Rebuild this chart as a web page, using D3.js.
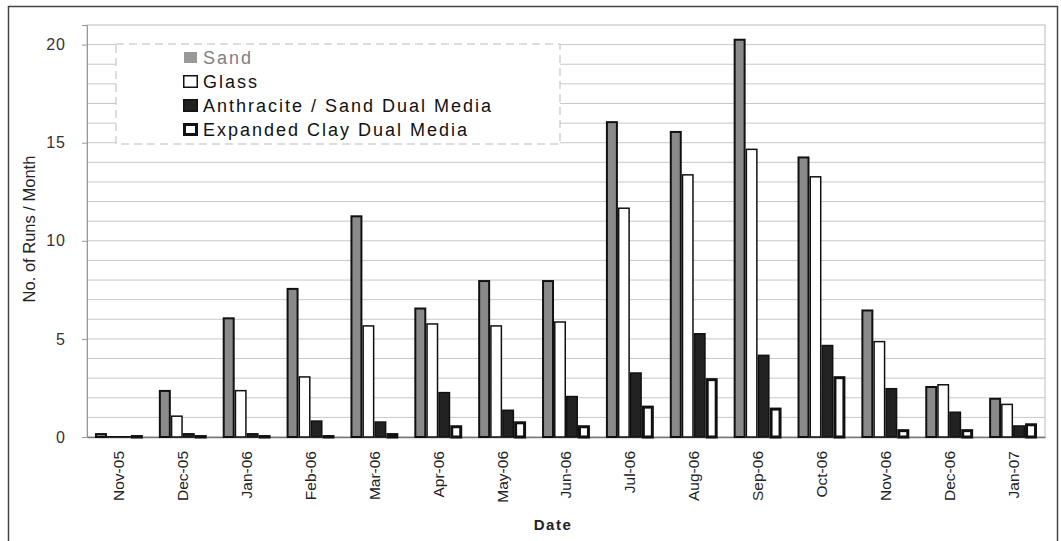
<!DOCTYPE html>
<html><head><meta charset="utf-8">
<script src="https://cdn.jsdelivr.net/npm/d3@7"></script>
<style>body{margin:0;background:#fff}svg{display:block}</style>
</head><body>
<script>
const categories = ["Nov-05","Dec-05","Jan-06","Feb-06","Mar-06","Apr-06","May-06","Jun-06","Jul-06","Aug-06","Sep-06","Oct-06","Nov-06","Dec-06","Jan-07"];
const seriesNames = ["Sand","Glass","Anthracite / Sand Dual Media","Expanded Clay Dual Media"];
const sand       = [0.2,2.4,6.1,7.6,11.3,6.6,8.0,8.0,16.1,15.6,20.3,14.3,6.5,2.6,2.0];
const glass      = [0.05,1.1,2.4,3.1,5.7,5.8,5.7,5.9,11.7,13.4,14.7,13.3,4.9,2.7,1.7];
const anthracite = [0.05,0.2,0.2,0.85,0.8,2.3,1.4,2.1,3.3,5.3,4.2,4.7,2.5,1.3,0.6];
const clay       = [0.1,0.1,0.1,0.1,0.2,0.6,0.8,0.6,1.6,3.0,1.5,3.1,0.4,0.4,0.7];
const yTicks = [0,5,10,15,20];

const W=1061,H=541;
const m={l:87,t:25,r:1045,b:437};
const FF="Liberation Sans, Arial, sans-serif";
const svg=d3.select("body").append("svg").attr("width",W).attr("height",H);
// outer frame
svg.append("rect").attr("x",8.5).attr("y",6.5).attr("width",1049).attr("height",540).attr("fill","none").attr("stroke","#444").attr("stroke-width",1.5);

const x=d3.scaleBand().domain(categories).range([m.l,m.r]).paddingInner(0.25).paddingOuter(0.125);
const y=d3.scaleLinear().domain([0,21]).range([m.b,m.t]);
const xs=d3.scaleBand().domain(seriesNames).range([0,x.bandwidth()]);

// gridlines
svg.append("g").selectAll("line").data(d3.range(1,21)).join("line")
 .attr("x1",m.l).attr("x2",m.r).attr("y1",d=>y(d)).attr("y2",d=>y(d))
 .attr("stroke","#c8c8c8").attr("stroke-width",1);
// plot border
svg.append("rect").attr("x",m.l).attr("y",m.t).attr("width",m.r-m.l).attr("height",m.b-m.t).attr("fill","none").attr("stroke","#bbb");

// y axis
const ya=svg.append("g").attr("transform",`translate(${m.l},0)`).call(d3.axisLeft(y).tickValues(yTicks).tickSize(5).tickPadding(16));
ya.select(".domain").attr("stroke","#999");
ya.selectAll(".tick line").attr("stroke","#999");
ya.selectAll("text").attr("font-family",FF).attr("font-size",16).attr("letter-spacing","1px").attr("fill","#333");

// x axis
const xa=svg.append("g").attr("transform",`translate(0,${m.b})`).call(d3.axisBottom(x).tickSize(0));
xa.select(".domain").attr("stroke","#777").attr("stroke-width",1.5);
xa.selectAll("text").attr("font-family",FF).attr("font-size",15.5).attr("fill","#222")
 .attr("transform","rotate(-90)").attr("text-anchor","end").attr("dx","-14").attr("dy","0.35em").attr("x",0).attr("y",0);

const data=[sand,glass,anthracite,clay];
const fills=["#8a8a8a","#ffffff","#222222","#ffffff"];
const sw=[2,1.5,1.5,3];
seriesNames.forEach((s,i)=>{
  svg.append("g").selectAll("rect").data(data[i]).join("rect")
   .attr("x",(d,j)=>x(categories[j])+xs(s)+sw[i]/2)
   .attr("width",xs.bandwidth()-sw[i])
   .attr("y",d=>y(d)+sw[i]/2)
   .attr("height",d=>Math.max(0,y(0)-y(d)-sw[i]/2))
   .attr("fill",fills[i]).attr("stroke","#111").attr("stroke-width",sw[i]);
});

// legend
const lg=svg.append("g");
lg.append("rect").attr("x",116).attr("y",44).attr("width",444).attr("height",100).attr("fill","#fff").attr("stroke","#bbb").attr("stroke-dasharray","8,5");
const rowsY=[58,82,106,130];
seriesNames.forEach((s,i)=>{
  lg.append("rect").attr("x",183+sw[i]/2).attr("y",rowsY[i]-7+sw[i]/2).attr("width",15-sw[i]).attr("height",13-sw[i])
   .attr("fill",i==0?"#999":fills[i]).attr("stroke",i==0?"#999":"#111").attr("stroke-width",i==0?0:sw[i]);
  lg.append("text").attr("x",203).attr("y",rowsY[i]).attr("dy","0.36em")
   .attr("font-family",FF).attr("font-size",18).attr("letter-spacing","2px")
   .attr("fill",i==0?"#808080":"#111").text(s);
});

// axis titles
svg.append("text").attr("transform","translate(35,229) rotate(-90)").attr("text-anchor","middle")
 .attr("font-family",FF).attr("font-size",16.5).attr("fill","#222").text("No. of Runs / Month");
svg.append("text").attr("x",553).attr("y",530).attr("text-anchor","middle")
 .attr("font-family",FF).attr("font-size",15).attr("font-weight","bold").attr("letter-spacing","1.5px").attr("fill","#222").text("Date");
</script>
</body></html>
